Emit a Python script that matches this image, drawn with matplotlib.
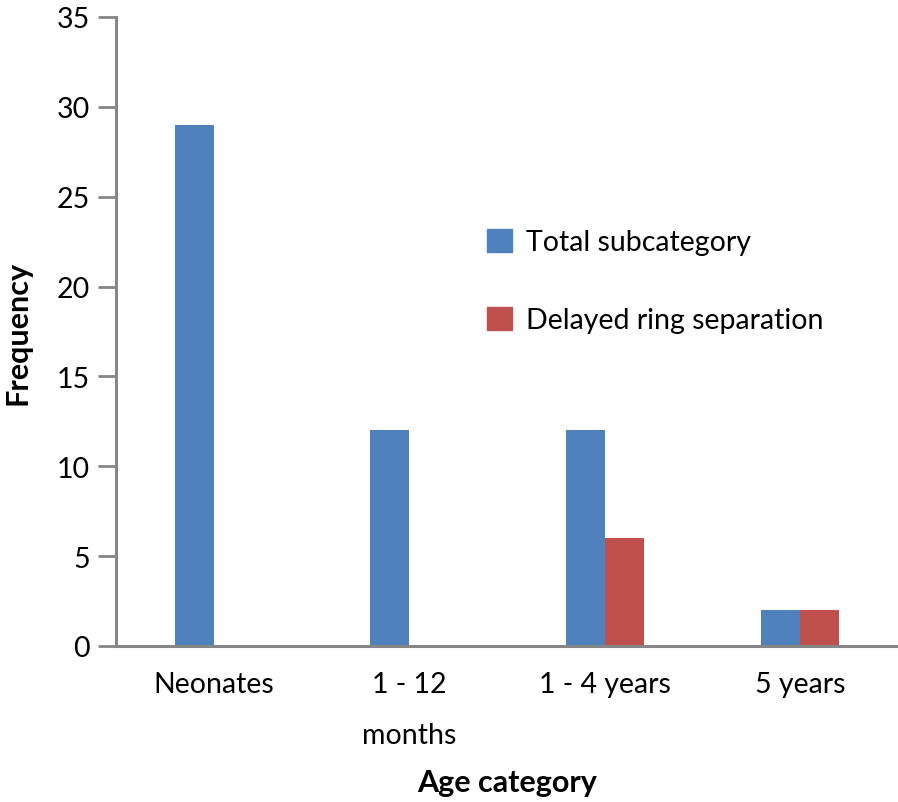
import matplotlib
matplotlib.use("Agg")
import matplotlib.pyplot as plt
import numpy as np
from matplotlib.patches import Patch

categories = ["Neonates", "1 - 12\nmonths", "1 - 4 years", "5 years"]
total_subcategory = [29, 12, 12, 2]
delayed_ring = [0, 0, 6, 2]
yticks = [0, 5, 10, 15, 20, 25, 30, 35]

blue = "#4F81BD"
red = "#C0504D"
axis_gray = "#868686"

plt.rcParams['font.family'] = ['Lato', 'DejaVu Sans']

fig = plt.figure(figsize=(8.98, 8.03), dpi=100)
ax = fig.add_axes([116/898, 1-647/803, 1-116/898, (647-18)/803])

x = np.arange(len(categories)) + 0.5
w = 0.2
ax.bar(x - w/2, total_subcategory, width=w, color=blue, label="Total subcategory")
ax.bar(x + w/2, delayed_ring, width=w, color=red, label="Delayed ring separation")

ax.set_xlim(0, len(categories))
ax.set_ylim(0, 35)
ax.set_yticks(yticks)
ax.set_xticks(x)
ax.set_xticklabels(categories)
for lab in ax.get_xticklabels():
    lab.set_linespacing(2.2)
    lab.set_verticalalignment('top')

ax.tick_params(axis='y', length=13, width=2, color=axis_gray, labelsize=20.5, pad=6)
ax.tick_params(axis='x', length=0, labelsize=20.5, pad=18)

for s in ['top', 'right']:
    ax.spines[s].set_visible(False)
for s in ['left', 'bottom']:
    ax.spines[s].set_color(axis_gray)
    ax.spines[s].set_linewidth(2.2)

ax.set_ylabel("Frequency", fontsize=22, fontweight='bold', labelpad=18)
ax.set_xlabel("Age category", fontsize=22, fontweight='bold', labelpad=14)

handles = [Patch(color=blue), Patch(color=red)]
ax.legend(handles, ["Total subcategory", "Delayed ring separation"],
          loc='upper left', bbox_to_anchor=(461/898, 1-204/803),
          bbox_transform=fig.transFigure, frameon=False, fontsize=20.5,
          handlelength=0.9, handleheight=0.9, handletextpad=0.5,
          labelspacing=1.8)

fig.savefig("out.png", dpi=100)
